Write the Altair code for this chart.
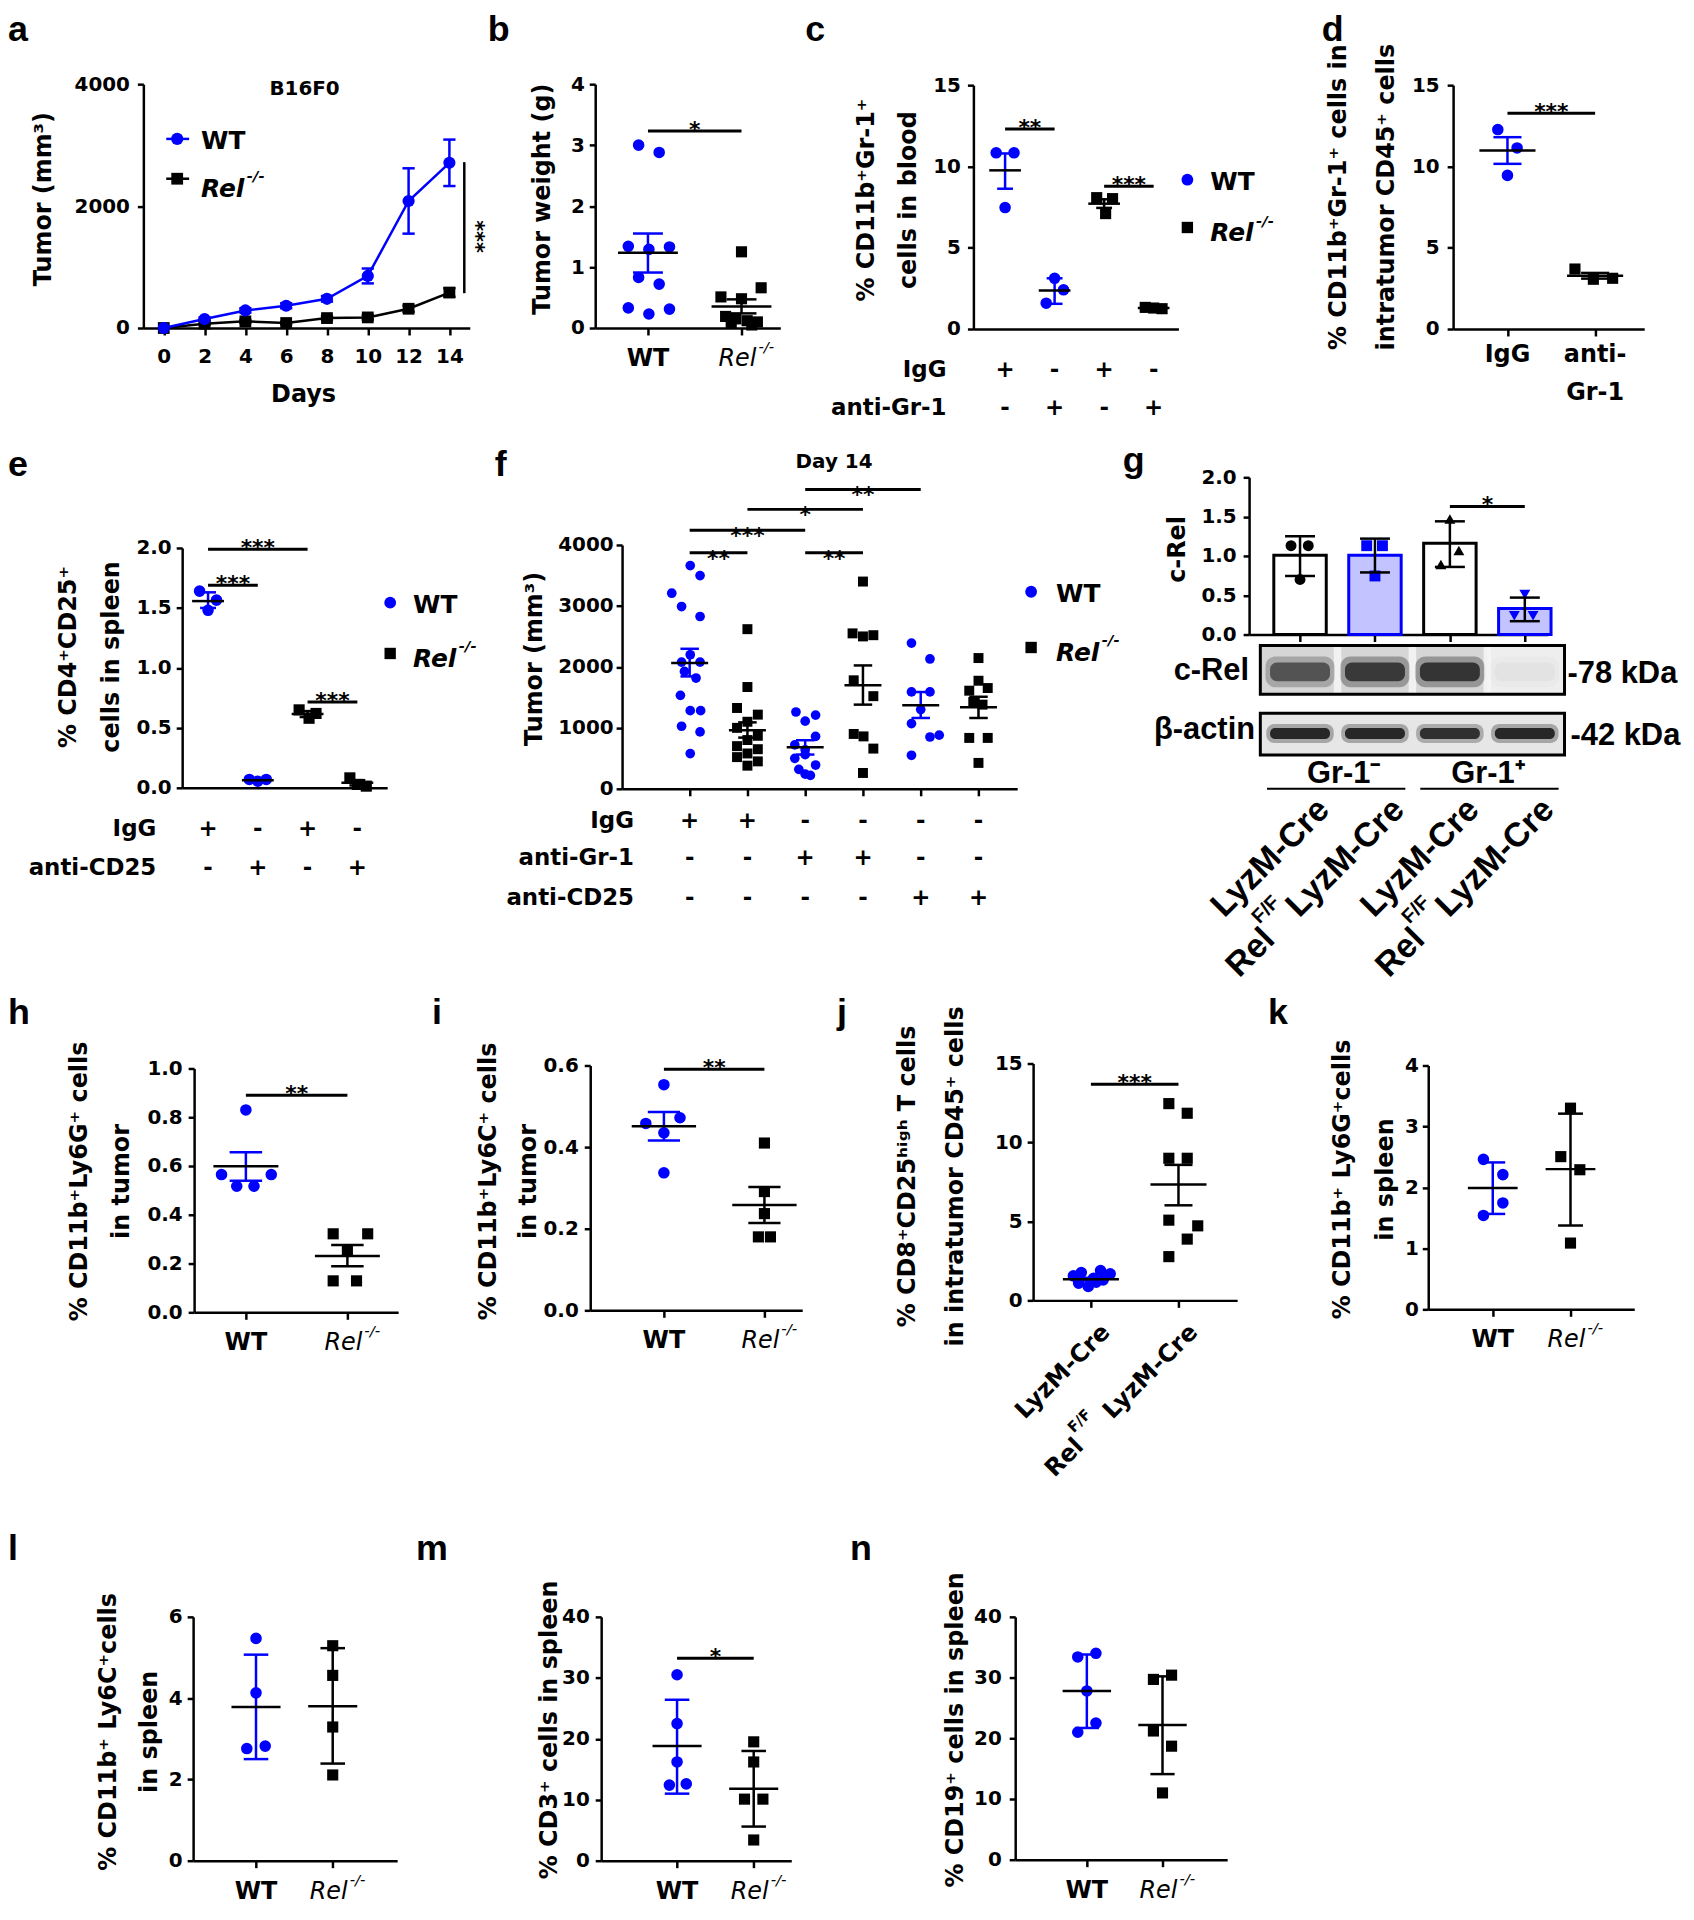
import altair as alt
import pandas as pd

W, H = 1686, 1904
OFF = 8
BLUE = "#0000ff"
LBLUE = "#c3c3ff"
GF = "DejaVu Sans"
AF = "Liberation Sans"
TICK_FS = 20
TITLE_FS = 24
CAT_FS = 24

# ====================== data ======================
days = [0, 2, 4, 6, 8, 10, 12, 14]
a_wt_mean = [0, 147, 288, 365, 479, 854, 2084, 2710]
a_wt_sem = [0, 25, 35, 40, 45, 122, 536, 381]
a_rel_mean = [0, 71, 109, 82, 163, 174, 316, 582]
a_rel_sem = [0, 20, 25, 20, 30, 35, 50, 70]

b_wt = [3.00, 2.88, 1.34, 1.29, 1.33, 0.83, 0.72, 0.33, 0.23, 0.31]
b_wt_spread = [-0.10, 0.12, -0.21, 0.01, 0.23, -0.10, 0.12, -0.21, 0.01, 0.23]
b_rel = [1.25, 0.66, 0.51, 0.48, 0.19, 0.15, 0.12, 0.10, 0.08, 0.05]
b_rel_spread = [0.0, 0.21, -0.22, 0.0, -0.17, -0.06, 0.06, 0.17, -0.11, 0.11]
b_mean = [1.235, 0.354]
b_lo = [0.91, 0.24]
b_hi = [1.55, 0.47]

c_vals = [[10.84, 10.84, 7.47], [3.12, 2.41, 1.59], [8.08, 8.02, 7.10], [1.33, 1.29, 1.25]]
c_spread = [[-0.18, 0.18, 0.0], [0.0, 0.18, -0.17], [-0.15, 0.17, 0.03], [-0.17, 0.0, 0.17]]
c_mean = [9.76, 2.37, 7.71, 1.29]
c_lo = [8.63, 1.55, 7.45, 1.20]
c_hi = [10.80, 3.12, 7.98, 1.38]
c_kind = ["WT", "WT", "Rel", "Rel"]
c_igg = ["+", "-", "+", "-"]
c_anti = ["-", "+", "-", "+"]

d_vals = [[12.27, 11.14, 9.45], [3.69, 3.06, 3.12]]
d_spread = [[-0.11, 0.11, 0.0], [-0.23, -0.02, 0.20]]
d_mean = [10.98, 3.27]
d_lo = [10.16, 3.10]
d_hi = [11.80, 3.45]

e_vals = [[1.64, 1.565, 1.48], [0.07, 0.055, 0.07], [0.65, 0.62, 0.58], [0.083, 0.028, 0.014]]
e_spread = [[-0.17, 0.17, 0.0], [-0.17, 0.0, 0.17], [-0.17, 0.17, 0.03], [-0.15, 0.0, 0.18]]
e_mean = [1.557, 0.063, 0.615, 0.042]
e_lo = [1.50, 0.055, 0.59, 0.02]
e_hi = [1.63, 0.07, 0.64, 0.064]
e_kind = ["WT", "WT", "Rel", "Rel"]
e_igg = ["+", "-", "+", "-"]
e_cd25 = ["-", "+", "-", "+"]

f_vals = [
    [3662, 3498, 3209, 2990, 2827, 2199, 2079, 1926, 2079, 1817, 1533, 1282, 1282, 1026, 933, 578],
    [2619, 1670, 1326, 1217, 1100, 1000, 870, 800, 700, 650, 580, 520, 450, 380],
    [1260, 1210, 1110, 860, 720, 640, 560, 500, 390, 320, 240, 220],
    [3400, 2550, 2500, 2520, 1780, 1520, 900, 860, 660, 260],
    [2390, 2130, 1590, 1590, 1300, 1070, 850, 880, 550],
    [2145, 1773, 1610, 1653, 1424, 1381, 835, 835, 425],
]
f_spread = [
    [0.01, 0.18, -0.31, -0.14, 0.18, 0.01, -0.14, -0.09, 0.18, 0.11, -0.16, 0.01, 0.19, -0.14, 0.18, 0.01],
    [0.0, 0.0, -0.18, 0.18, 0.0, -0.18, 0.18, 0.0, -0.18, 0.18, 0.0, -0.18, 0.18, 0.0],
    [-0.16, 0.18, 0.0, 0.18, -0.18, 0.0, 0.0, -0.18, 0.18, -0.11, 0.0, 0.09],
    [0.0, -0.18, 0.0, 0.18, -0.16, 0.18, -0.16, 0.01, 0.18, 0.0],
    [-0.16, 0.16, -0.16, 0.16, 0.0, -0.16, 0.16, 0.32, -0.16],
    [0.0, 0.0, -0.16, 0.16, -0.09, 0.07, -0.16, 0.16, 0.0],
]
f_mean = [2063, 960, 682, 1697, 1370, 1337]
f_lo = [1844, 840, 562, 1381, 1162, 1162]
f_hi = [2297, 1090, 797, 2024, 1588, 1510]
f_kind = ["WT", "Rel", "WT", "Rel", "WT", "Rel"]
f_igg = ["+", "+", "-", "-", "-", "-"]
f_gr1 = ["-", "-", "+", "+", "-", "-"]
f_cd25 = ["-", "-", "-", "-", "+", "+"]
f_sig = [(0, 1, 3874, "**"), (0, 2, 4240, "***"), (1, 3, 4584, "*"), (2, 4, 4911, "**"), (2, 3, 3874, "**")]

g_mean = [1.01, 1.01, 1.16, 0.33]
g_lo = [0.745, 0.79, 0.86, 0.17]
g_hi = [1.25, 1.22, 1.44, 0.47]
g_pts = [[1.13, 1.13, 0.70], [1.13, 1.13, 0.745], [1.47, 1.07, 0.89], [0.51, 0.24, 0.24]]
g_spread = [[-0.12, 0.11, 0.0], [-0.11, 0.10, 0.0], [0.0, 0.12, -0.12], [0.0, -0.14, 0.11]]
g_crel_band = [0.70, 0.88, 0.92, 0.04]
g_actin_band = [0.85, 0.85, 0.80, 0.85]

h_wt = [0.83, 0.565, 0.565, 0.517, 0.517]
h_wt_spread = [0.0, -0.24, 0.25, -0.09, 0.08]
h_rel = [0.322, 0.322, 0.25, 0.129, 0.129]
h_rel_spread = [-0.14, 0.20, 0.0, -0.14, 0.09]
h_mean = [0.599, 0.231]
h_lo = [0.54, 0.189]
h_hi = [0.656, 0.276]

i_wt = [0.553, 0.458, 0.472, 0.435, 0.337]
i_wt_spread = [0.0, -0.18, 0.16, 0.0, 0.0]
i_rel = [0.41, 0.291, 0.237, 0.18, 0.18]
i_rel_spread = [0.0, 0.0, 0.0, -0.06, 0.06]
i_mean = [0.451, 0.258]
i_lo = [0.416, 0.214]
i_hi = [0.486, 0.302]

j_wt = [1.55, 1.76, 1.89, 1.68, 1.09, 0.88, 1.15, 1.30, 1.40]
j_wt_spread = [-0.20, -0.11, 0.11, 0.22, -0.14, -0.03, 0.06, 0.14, 0.03]
j_rel = [12.46, 11.85, 9.0, 9.0, 5.08, 4.72, 3.88, 2.77]
j_rel_spread = [-0.11, 0.10, -0.11, 0.10, -0.11, 0.22, 0.10, -0.11]
j_mean = [1.34, 7.34]
j_lo = [1.25, 6.02]
j_hi = [1.43, 8.58]

k_wt = [2.46, 2.21, 1.745, 1.54]
k_wt_spread = [-0.12, 0.13, 0.13, -0.12]
k_rel = [3.30, 2.505, 2.29, 1.087]
k_rel_spread = [0.0, -0.125, 0.12, 0.0]
k_mean = [1.99, 2.30]
k_lo = [1.565, 1.375]
k_hi = [2.41, 3.21]

l_wt = [5.47, 4.13, 2.76, 2.82]
l_wt_spread = [0.0, 0.0, -0.12, 0.12]
l_rel = [5.29, 4.56, 3.29, 2.11]
l_rel_spread = [0.0, 0.0, 0.0, 0.0]
l_mean = [3.78, 3.80]
l_lo = [2.50, 2.39]
l_hi = [5.07, 5.23]

m_wt = [30.5, 22.5, 16.2, 12.4, 12.6]
m_wt_spread = [0.0, 0.0, 0.0, -0.10, 0.12]
m_rel = [19.5, 16.2, 10.1, 10.1, 3.4]
m_rel_spread = [0.0, 0.0, -0.12, 0.12, 0.0]
m_mean = [18.8, 11.8]
m_lo = [11.0, 5.6]
m_hi = [26.4, 18.0]

n_wt = [33.4, 34.0, 27.8, 22.5, 21.0]
n_wt_spread = [-0.12, 0.12, 0.0, 0.12, -0.12]
n_rel = [29.7, 30.4, 21.2, 18.7, 11.0]
n_rel_spread = [-0.12, 0.12, -0.12, 0.12, 0.0]
n_mean = [27.8, 22.2]
n_lo = [21.7, 14.1]
n_hi = [33.8, 30.2]

# ====================== layout (page pixels) ======================
PAN = {
    "a": dict(X0=144, X1=472, Yt=80, Yb=325, xd=(-1, 15), yd=(0, 4000)),
    "b": dict(X0=598, X1=784, Yt=80, Yb=325, xd=(-0.564, 1.415), yd=(0, 4)),
    "c": dict(X0=978, X1=1184, Yt=81, Yb=326, xd=(-0.64, 3.5), yd=(0, 15)),
    "d": dict(X0=1460, X1=1652, Yt=81, Yb=326, xd=(-0.62, 1.56), yd=(0, 15)),
    "e": dict(X0=183, X1=389, Yt=546, Yb=787, xd=(-0.52, 3.6), yd=(0, 2)),
    "f": dict(X0=625, X1=1022, Yt=543, Yb=788, xd=(-1.17, 5.67), yd=(0, 4000)),
    "g": dict(X0=1255, X1=1555, Yt=475, Yb=633, xd=(-0.68, 3.305), yd=(0, 2)),
    "h": dict(X0=195, X1=400, Yt=1069, Yb=1314, xd=(-0.51, 1.5), yd=(0, 1)),
    "i": dict(X0=593, X1=806, Yt=1066, Yb=1312, xd=(-0.733, 1.376), yd=(0, 0.6)),
    "j": dict(X0=1038, X1=1243, Yt=1064, Yb=1302, xd=(-0.66, 1.67), yd=(0, 15)),
    "k": dict(X0=1435, X1=1642, Yt=1066, Yb=1311, xd=(-0.83, 1.82), yd=(0, 4)),
    "l": dict(X0=194, X1=399, Yt=1620, Yb=1865, xd=(-0.82, 1.84), yd=(0, 6)),
    "m": dict(X0=604, X1=795, Yt=1620, Yb=1865, xd=(-0.99, 1.49), yd=(0, 40)),
    "n": dict(X0=1020, X1=1233, Yt=1620, Yb=1864, xd=(-0.947, 1.855), yd=(0, 40)),
}


def sx(p):
    return alt.Scale(domain=list(p["xd"]), range=[p["X0"] - OFF, p["X1"] - OFF], nice=False, zero=False)


def sy(p):
    return alt.Scale(domain=list(p["yd"]), range=[p["Yb"] - OFF, p["Yt"] - OFF], nice=False, zero=False)


def XQ(p, f="x"):
    return alt.X(f"{f}:Q", scale=sx(p), axis=None)


def YQ(p, f="y"):
    return alt.Y(f"{f}:Q", scale=sy(p), axis=None)


layers = []


def add(*items):
    for it in items:
        if isinstance(it, (list, tuple)):
            layers.extend(it)
        else:
            layers.append(it)


def axes(p, yvals, yfmt, title, tcx, tcy, tlh=42, tfs=TITLE_FS, xvals=(0,), xticks=True,
         xlabels=False, xlpad=12, ylpad=6):
    # tcx = centre of the first (left-most) title line
    yax = alt.Axis(orient="left", offset=-(p["X0"] - OFF), values=list(yvals), format=yfmt,
                   title=title, titleX=tcx + 0.57 * tfs - p["X0"], titleY=tcy - OFF, titleAngle=270,
                   titleAlign="center", titleBaseline="bottom", titleFont=GF, titleFontSize=tfs,
                   titleFontWeight="bold", titleColor="black", titleLineHeight=tlh,
                   labelFont=GF, labelFontSize=TICK_FS, labelFontWeight="bold", labelColor="black",
                   labelPadding=ylpad, labelFlush=False, labelOverlap=False, grid=False,
                   domainColor="black", domainWidth=2.5, tickColor="black", tickWidth=2.5, tickSize=6)
    xax = alt.Axis(orient="bottom", offset=(p["Yb"] - OFF) - H, values=list(xvals), labels=xlabels,
                   ticks=xticks, title=None, labelFont=GF, labelFontSize=TICK_FS, labelFontWeight="bold",
                   labelColor="black", labelPadding=xlpad, labelFlush=False, labelOverlap=False,
                   grid=False, domainColor="black", domainWidth=2.5, tickColor="black",
                   tickWidth=2.5, tickSize=7)
    d = pd.DataFrame({"x": [p["xd"][0]], "y": [p["yd"][0]]})
    return alt.Chart(d).mark_point(opacity=0).encode(
        x=alt.X("x:Q", scale=sx(p), axis=xax), y=alt.Y("y:Q", scale=sy(p), axis=yax))


def scatter(p, xs_, ys_, color, shape, size):
    return alt.Chart(pd.DataFrame({"x": xs_, "y": ys_})).mark_point(
        shape=shape, filled=True, color=color, size=size, opacity=1).encode(x=XQ(p), y=YQ(p))


def segs(p, rows, color="black", width=2.5):
    d = pd.DataFrame(rows, columns=["x", "x2", "y", "y2"])
    return alt.Chart(d).mark_rule(color=color, strokeWidth=width).encode(
        x=XQ(p), x2="x2:Q", y=YQ(p), y2="y2:Q")


def dtext(p, rows, **kw):
    kw.setdefault("color", "black")
    d = pd.DataFrame(rows, columns=["x", "y", "t"])
    return alt.Chart(d).mark_text(**kw).encode(x=XQ(p), y=YQ(p), text="t:N")


def xtext(p, xs_, Y, ts, **kw):
    kw.setdefault("color", "black")
    d = pd.DataFrame({"x": xs_, "t": ts})
    return alt.Chart(d).mark_text(**kw).encode(x=XQ(p), y=alt.value(Y - OFF), text="t:N")


def ptext(X, Y, t, **kw):
    kw.setdefault("color", "black")
    return alt.Chart(pd.DataFrame({"t": [t]})).mark_text(**kw).encode(
        x=alt.value(X - OFF), y=alt.value(Y - OFF), text="t:N")


def ppoint(X, Y, shape, color, size):
    return alt.Chart(pd.DataFrame({"v": [0]})).mark_point(
        shape=shape, filled=True, color=color, size=size, opacity=1).encode(
        x=alt.value(X - OFF), y=alt.value(Y - OFF))


def pline(X1, Y1, X2, Y2, color="black", width=2.5):
    return alt.Chart(pd.DataFrame({"v": [0]})).mark_rule(color=color, strokeWidth=width).encode(
        x=alt.value(X1 - OFF), y=alt.value(Y1 - OFF), x2=alt.value(X2 - OFF), y2=alt.value(Y2 - OFF))


def dot_group(p, cat, vals, spread, mean, lo, hi, kind, csize=135, ssize=125, mw=0.32, cw=0.16):
    color = BLUE if kind == "WT" else "black"
    shape = "circle" if kind == "WT" else "square"
    size = csize if kind == "WT" else ssize
    return [
        scatter(p, [cat + s for s in spread], vals, color, shape, size),
        segs(p, [(cat, cat, lo, hi), (cat - cw, cat + cw, lo, lo), (cat - cw, cat + cw, hi, hi)], color, 2.5),
        segs(p, [(cat - mw, cat + mw, mean, mean)], "black", 2.5),
    ]


def sig(p, c1, c2, y, stars, dy=6):
    return [segs(p, [(c1, c2, y, y)], "black", 3),
            dtext(p, [((c1 + c2) / 2, y, stars)], font=GF, fontSize=22, fontWeight="bold",
                  align="center", baseline="alphabetic", dy=dy)]


def wt_rel_labels(p, dy=31):
    y0 = p["yd"][0]
    return [
        dtext(p, [(0, y0, "WT")], font=GF, fontSize=CAT_FS, fontWeight="bold", align="center",
              baseline="middle", dy=dy),
        dtext(p, [(1, y0, "Rel")], font=GF, fontSize=CAT_FS, fontStyle="italic", align="right",
              baseline="middle", dx=15, dy=dy),
        dtext(p, [(1, y0, "-/-")], font=GF, fontSize=15, fontStyle="italic", align="left",
              baseline="middle", dx=17, dy=dy - 12),
    ]


def legend(Xs, Yw, Yr, Xt, fs=25):
    return [ppoint(Xs, Yw, "circle", BLUE, 140),
            ptext(Xt, Yw + 2, "WT", font=GF, fontSize=fs, fontWeight="bold", align="left", baseline="middle"),
            ppoint(Xs, Yr, "square", "black", 130),
            ptext(Xt, Yr + 6, "Rel", font=GF, fontSize=fs, fontWeight="bold", fontStyle="italic",
                  align="left", baseline="middle"),
            ptext(Xt + 46, Yr - 7, "-/-", font=GF, fontSize=15, fontWeight="bold", fontStyle="italic",
                  align="left", baseline="middle")]


def row_labels(p, Xr, Ys, names, signs):
    out = []
    for Y, name, sg in zip(Ys, names, signs):
        out.append(ptext(Xr, Y, name, font=GF, fontSize=23, fontWeight="bold", align="right", baseline="middle"))
        out.append(xtext(p, list(range(len(sg))), Y, sg, font=GF, fontSize=23, fontWeight="bold",
                         align="center", baseline="middle"))
    return out


def letter(X, Y, t):
    return ptext(X, Y, t, font=AF, fontSize=36, fontWeight="bold", align="left", baseline="alphabetic")


# ====================== panel a ======================
pa = PAN["a"]
add(axes(pa, [0, 2000, 4000], "d", "Tumor (mm³)", 42, 195, xvals=days, xlabels=True, xlpad=12, ylpad=8))
add(alt.Chart(pd.DataFrame({"x": days, "y": a_rel_mean})).mark_line(color="black", strokeWidth=2.5)
    .encode(x=XQ(pa), y=YQ(pa)))
add(alt.Chart(pd.DataFrame({"x": days, "y": a_wt_mean})).mark_line(color=BLUE, strokeWidth=2.5)
    .encode(x=XQ(pa), y=YQ(pa)))


def err_rows(xs_, m, s, cw):
    rows = []
    for x, mm, ss in zip(xs_, m, s):
        if ss > 0:
            rows += [(x, x, mm - ss, mm + ss), (x - cw, x + cw, mm - ss, mm - ss), (x - cw, x + cw, mm + ss, mm + ss)]
    return rows


add(segs(pa, err_rows(days, a_rel_mean, a_rel_sem, 0.3), "black"))
add(segs(pa, err_rows(days, a_wt_mean, a_wt_sem, 0.3), BLUE))
add(scatter(pa, days, a_rel_mean, "black", "square", 140))
add(scatter(pa, days, a_wt_mean, BLUE, "circle", 150))
add(segs(pa, [(14.73, 14.73, 571, 2721)], "black", 2.5))
add(dtext(pa, [(15.25, 1500, "***")], font=GF, fontSize=21, fontWeight="bold", angle=90,
          align="center", baseline="middle"))
add(pline(167, 135, 190, 135, BLUE), ppoint(178, 135, "circle", BLUE, 150),
    ptext(202, 137, "WT", font=GF, fontSize=25, fontWeight="bold", align="left", baseline="middle"))
add(pline(167, 175, 190, 175, "black"), ppoint(178, 175, "square", "black", 140),
    ptext(202, 185, "Rel", font=GF, fontSize=25, fontWeight="bold", fontStyle="italic", align="left",
          baseline="middle"),
    ptext(248, 172, "-/-", font=GF, fontSize=15, fontWeight="bold", fontStyle="italic", align="left",
          baseline="middle"))
add(ptext(306, 85, "B16F0", font=GF, fontSize=20, fontWeight="bold", align="center", baseline="middle"))
add(ptext(305, 392, "Days", font=GF, fontSize=24, fontWeight="bold", align="center", baseline="middle"))
add(letter(8, 37, "a"))

# ====================== panel b ======================
pb = PAN["b"]
add(axes(pb, [0, 1, 2, 3, 4], "d", "Tumor weight (g)", 543, 195, xvals=[0, 1], ylpad=5))
add(dot_group(pb, 0, b_wt, b_wt_spread, b_mean[0], b_lo[0], b_hi[0], "WT"))
add(dot_group(pb, 1, b_rel, b_rel_spread, b_mean[1], b_lo[1], b_hi[1], "Rel"))
add(sig(pb, 0, 1, 3.23, "*"))
add(wt_rel_labels(pb))
add(letter(490, 37, "b"))

# ====================== panel c ======================
pc = PAN["c"]
add(axes(pc, [0, 5, 10, 15], "d", ["% CD11b⁺Gr-1⁺", "cells in blood"], 869, 196, tlh=42,
         xvals=[0], xticks=False, ylpad=7))
for ci in range(4):
    add(dot_group(pc, ci, c_vals[ci], c_spread[ci], c_mean[ci], c_lo[ci], c_hi[ci], c_kind[ci]))
add(sig(pc, 0, 1, 12.3, "**"), sig(pc, 2, 3, 8.78, "***"))
add(legend(1193, 176, 224, 1216))
add(row_labels(pc, 951, [367, 405], ["IgG", "anti-Gr-1"], [c_igg, c_anti]))
add(letter(809, 37, "c"))

# ====================== panel d ======================
pd_ = PAN["d"]
add(axes(pd_, [0, 5, 10, 15], "d", ["% CD11b⁺Gr-1⁺ cells in", "intratumor CD45⁺ cells"], 1343, 193,
         tlh=48, xvals=[0, 1], ylpad=8))
add(dot_group(pd_, 0, d_vals[0], d_spread[0], d_mean[0], d_lo[0], d_hi[0], "WT"))
add(dot_group(pd_, 1, d_vals[1], d_spread[1], d_mean[1], d_lo[1], d_hi[1], "Rel"))
add(sig(pd_, 0, 1, 13.27, "***"))
add(xtext(pd_, [0, 1], 352, ["IgG", "anti-"], font=GF, fontSize=CAT_FS, fontWeight="bold", align="center",
          baseline="middle"))
add(xtext(pd_, [1], 390, ["Gr-1"], font=GF, fontSize=CAT_FS, fontWeight="bold", align="center",
          baseline="middle"))
add(letter(1328, 37, "d"))

# ====================== panel e ======================
pe = PAN["e"]
add(axes(pe, [0, 0.5, 1, 1.5, 2], ".1f", ["% CD4⁺CD25⁺", "cells in spleen"], 67, 655, tlh=43,
         xvals=[0], xticks=False, ylpad=5))
for ci in range(4):
    add(dot_group(pe, ci, e_vals[ci], e_spread[ci], e_mean[ci], e_lo[ci], e_hi[ci], e_kind[ci]))
add(sig(pe, 0, 1, 1.69, "***"), sig(pe, 0, 2, 1.99, "***"), sig(pe, 2, 3, 0.715, "***"))
add(legend(392, 601, 652, 415))
add(row_labels(pe, 157, [828, 868], ["IgG", "anti-CD25"], [e_igg, e_cd25]))
add(letter(8, 474, "e"))

# ====================== panel f ======================
pf = PAN["f"]
add(axes(pf, [0, 1000, 2000, 3000, 4000], "d", "Tumor (mm³)", 535, 657, xvals=list(range(6)), ylpad=3))
for ci in range(6):
    add(dot_group(pf, ci, f_vals[ci], f_spread[ci], f_mean[ci], f_lo[ci], f_hi[ci], f_kind[ci],
                  csize=95, ssize=100))
for c1, c2, yv, st in f_sig:
    add(sig(pf, c1, c2, yv, st, dy=13))
add(legend(1036, 590, 646, 1061))
add(row_labels(pf, 637, [820, 858, 898], ["IgG", "anti-Gr-1", "anti-CD25"], [f_igg, f_gr1, f_cd25]))
add(ptext(838, 460, "Day 14", font=GF, fontSize=20, fontWeight="bold", align="center", baseline="middle"))
add(letter(497, 474, "f"))

# ====================== panel g ======================
pg = PAN["g"]
add(axes(pg, [0, 0.5, 1, 1.5, 2], ".1f", "c-Rel", 1181, 547, xvals=[0, 1, 2, 3], ylpad=7))


def bars(p, idx, fill, stroke):
    d = pd.DataFrame({"x": [i - 0.35 for i in idx], "x2": [i + 0.35 for i in idx],
                      "y": [0] * len(idx), "y2": [g_mean[i] for i in idx]})
    return alt.Chart(d).mark_rect(fill=fill, stroke=stroke, strokeWidth=3).encode(
        x=XQ(p), x2="x2:Q", y=YQ(p), y2="y2:Q")


add(bars(pg, [0, 2], "white", "black"), bars(pg, [1, 3], LBLUE, BLUE))
g_shapes = ["circle", "square", "triangle-up", "triangle-down"]
g_colors = ["black", BLUE, "black", BLUE]
for li in range(4):
    add(scatter(pg, [li + s for s in g_spread[li]], g_pts[li], g_colors[li], g_shapes[li], 120))
    add(segs(pg, [(li, li, g_lo[li], g_hi[li]), (li - 0.2, li + 0.2, g_lo[li], g_lo[li]),
                  (li - 0.2, li + 0.2, g_hi[li], g_hi[li])], "black", 2.5))
add(sig(pg, 2, 3, 1.63, "*"))


def lane_rect(p, x1, x2, Y1, Y2, fill, op=None, **kw):
    d = pd.DataFrame({"x": x1, "x2": x2, "o": op if op is not None else [1.0] * len(x1)})
    return alt.Chart(d).mark_rect(fill=fill, **kw).encode(
        x=XQ(p), x2="x2:Q", y=alt.value(Y1 - OFF), y2=alt.value(Y2 - OFF),
        opacity=alt.Opacity("o:Q", scale=None))


lanes = [0, 1, 2, 3]
# c-Rel blot
add(lane_rect(pg, [-0.53], [3.53], 644, 693, "#d6d6d6"))
add(lane_rect(pg, [2.5], [3.53], 644, 693, "#eeeeee"))
add(lane_rect(pg, [0.45, 1.45, 2.45], [0.55, 1.55, 2.55], 644, 693, "#f4f4f4", [0.9, 0.9, 0.9]))
add(lane_rect(pg, [l - 0.46 for l in lanes], [l + 0.46 for l in lanes], 655, 686, "#111111",
              [b * 0.35 for b in g_crel_band], cornerRadius=10))
add(lane_rect(pg, [l - 0.4 for l in lanes], [l + 0.4 for l in lanes], 661, 680, "#111111",
              [b * 0.8 for b in g_crel_band], cornerRadius=7))
add(lane_rect(pg, [-0.53], [3.53], 644, 693, "white", [1.0], fillOpacity=0, stroke="black", strokeWidth=3))
# beta-actin blot
add(lane_rect(pg, [-0.53], [3.53], 712, 754, "#e6e6e6"))
add(lane_rect(pg, [l - 0.45 for l in lanes], [l + 0.45 for l in lanes], 723, 742, "#111111",
              [b * 0.35 for b in g_actin_band], cornerRadius=8))
add(lane_rect(pg, [l - 0.4 for l in lanes], [l + 0.4 for l in lanes], 727, 738, "#111111",
              g_actin_band, cornerRadius=5))
add(lane_rect(pg, [-0.53], [3.53], 712, 754, "white", [1.0], fillOpacity=0, stroke="black", strokeWidth=3))
G_KW = dict(font=AF, fontSize=31, fontWeight="bold")
add(ptext(1255, 670, "c-Rel", align="right", baseline="middle", **G_KW))
add(ptext(1261, 729, "β-actin", align="right", baseline="middle", **G_KW))
add(ptext(1575, 673, "-78 kDa", align="left", baseline="middle", **G_KW))
add(ptext(1578, 735, "-42 kDa", align="left", baseline="middle", **G_KW))
add(ptext(1350, 773, "Gr-1⁻", align="center", baseline="middle", **G_KW))
add(ptext(1495, 773, "Gr-1⁺", align="center", baseline="middle", **G_KW))
add(pline(1273, 788, 1412, 788, "black", 2), pline(1427, 788, 1566, 788, "black", 2))
R_KW = dict(font=AF, fontSize=34, fontWeight="bold")
for li in lanes:
    add(xtext(pg, [li + 0.16], 792, ["LyzM-Cre"], angle=315, align="right", baseline="top", **R_KW))
    if li in (1, 3):
        add(xtext(pg, [li + 0.16], 792, ["F/F"], angle=315, align="right", baseline="top", dx=-154, dy=-13,
                  font=AF, fontSize=20, fontWeight="bold"))
        add(xtext(pg, [li + 0.16], 792, ["Rel"], angle=315, align="right", baseline="top", dx=-184, **R_KW))
add(letter(1128, 470, "g"))

# ====================== panel h ======================
ph = PAN["h"]
add(axes(ph, [0, 0.2, 0.4, 0.6, 0.8, 1.0], ".1f", ["% CD11b⁺Ly6G⁺ cells", "in tumor"], 78, 1182,
         tlh=42, xvals=[0, 1], ylpad=6))
add(dot_group(ph, 0, h_wt, h_wt_spread, h_mean[0], h_lo[0], h_hi[0], "WT"))
add(dot_group(ph, 1, h_rel, h_rel_spread, h_mean[1], h_lo[1], h_hi[1], "Rel"))
add(sig(ph, 0, 1, 0.89, "**"))
add(wt_rel_labels(ph))
add(letter(8, 1024, "h"))

# ====================== panel i ======================
pi = PAN["i"]
add(axes(pi, [0, 0.2, 0.4, 0.6], ".1f", ["% CD11b⁺Ly6C⁺ cells", "in tumor"], 489, 1182,
         tlh=40, xvals=[0, 1], ylpad=6))
add(dot_group(pi, 0, i_wt, i_wt_spread, i_mean[0], i_lo[0], i_hi[0], "WT"))
add(dot_group(pi, 1, i_rel, i_rel_spread, i_mean[1], i_lo[1], i_hi[1], "Rel"))
add(sig(pi, 0, 1, 0.591, "**"))
add(wt_rel_labels(pi))
add(letter(434, 1024, "i"))

# ====================== panel j ======================
pj = PAN["j"]
add(axes(pj, [0, 5, 10, 15], "d", ["% CD8⁺CD25ʰⁱᵍʰ T cells", "in intratumor CD45⁺ cells"], 910, 1177,
         tlh=48, xvals=[0, 1], ylpad=5))
add(dot_group(pj, 0, j_wt, j_wt_spread, j_mean[0], j_lo[0], j_hi[0], "WT"))
add(dot_group(pj, 1, j_rel, j_rel_spread, j_mean[1], j_lo[1], j_hi[1], "Rel"))
add(sig(pj, 0, 1, 13.68, "***"))
J_KW = dict(font=GF, fontSize=24, fontWeight="bold", angle=315, align="right", baseline="top")
add(xtext(pj, [0.08], 1322, ["LyzM-Cre"], **J_KW))
add(xtext(pj, [1.08], 1322, ["LyzM-Cre"], **J_KW))
add(xtext(pj, [1.08], 1322, ["F/F"], dx=-134, dy=-11, font=GF, fontSize=15, fontWeight="bold", angle=315,
          align="right", baseline="top"))
add(xtext(pj, [1.08], 1322, ["Rel"], dx=-162, **J_KW))
add(letter(841, 1024, "j"))

# ====================== panel k ======================
pk = PAN["k"]
add(axes(pk, [0, 1, 2, 3, 4], "d", ["% CD11b⁺ Ly6G⁺cells", "in spleen"], 1347, 1180,
         tlh=43, xvals=[0, 1], ylpad=4))
add(dot_group(pk, 0, k_wt, k_wt_spread, k_mean[0], k_lo[0], k_hi[0], "WT"))
add(dot_group(pk, 1, k_rel, k_rel_spread, k_mean[1], k_lo[1], k_hi[1], "Rel"))
add(wt_rel_labels(pk))
add(letter(1274, 1024, "k"))

# ====================== panel l ======================
pl = PAN["l"]
add(axes(pl, [0, 2, 4, 6], "d", ["% CD11b⁺ Ly6C⁺cells", "in spleen"], 107, 1735,
         tlh=42, xvals=[0, 1], ylpad=5))
add(dot_group(pl, 0, l_wt, l_wt_spread, l_mean[0], l_lo[0], l_hi[0], "WT"))
add(dot_group(pl, 1, l_rel, l_rel_spread, l_mean[1], l_lo[1], l_hi[1], "Rel"))
add(wt_rel_labels(pl))
add(letter(8, 1563, "l"))

# ====================== panel m ======================
pm = PAN["m"]
add(axes(pm, [0, 10, 20, 30, 40], "d", "% CD3⁺ cells in spleen", 550, 1733, xvals=[0, 1], ylpad=6))
add(dot_group(pm, 0, m_wt, m_wt_spread, m_mean[0], m_lo[0], m_hi[0], "WT"))
add(dot_group(pm, 1, m_rel, m_rel_spread, m_mean[1], m_lo[1], m_hi[1], "Rel"))
add(sig(pm, 0, 1, 33.2, "*"))
add(wt_rel_labels(pm))
add(letter(418, 1563, "m"))

# ====================== panel n ======================
pn = PAN["n"]
add(axes(pn, [0, 10, 20, 30, 40], "d", "% CD19⁺ cells in spleen", 958, 1733, xvals=[0, 1], ylpad=8))
add(dot_group(pn, 0, n_wt, n_wt_spread, n_mean[0], n_lo[0], n_hi[0], "WT"))
add(dot_group(pn, 1, n_rel, n_rel_spread, n_mean[1], n_lo[1], n_hi[1], "Rel"))
add(wt_rel_labels(pn))
add(letter(854, 1563, "n"))

chart = (
    alt.layer(*layers)
    .resolve_scale(x="independent", y="independent")
    .properties(width=W, height=H, padding=0, background="white")
    .configure_view(stroke=None)
)
chart.save("out.html", embed_options={"renderer": "svg", "actions": False})
